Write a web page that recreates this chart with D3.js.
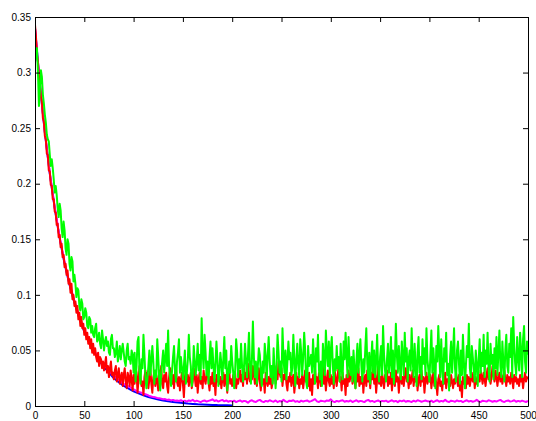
<!DOCTYPE html>
<html>
<head>
<meta charset="utf-8">
<script src="https://cdn.jsdelivr.net/npm/d3@7"></script>
<style>
  body { margin: 0; background: #fff; }
  .axis text { font-family: "Liberation Sans", Arial, Helvetica, sans-serif; font-size: 10px; fill: #000; }
  .axis path, .axis line { stroke: #000; }
</style>
</head>
<body>
<div id="chart"></div>
<script>
const width = 536;
const height = 421;

const margin = { top: 17, right: 8, bottom: 15, left: 35 };

// x ticks and y ticks
const xTicks = [0, 50, 100, 150, 200, 250, 300, 350, 400, 450, 500];
const yTicks = [0, 0.05, 0.1, 0.15, 0.2, 0.25, 0.3, 0.35];

// blue: sampled every 5 iterations, 0..200
const blueStep = 5;
const blueValues = [
  0.340, 0.289, 0.246, 0.209, 0.178, 0.151, 0.128, 0.109, 0.093, 0.079,
  0.067, 0.057, 0.0485, 0.041, 0.035, 0.030, 0.025, 0.0215, 0.018, 0.0156,
  0.0132, 0.0113, 0.0096, 0.0081, 0.0069, 0.0059, 0.005, 0.0042, 0.0036, 0.0031,
  0.0026, 0.0022, 0.0019, 0.0016, 0.0014, 0.0012, 0.001, 0.0008, 0.0007, 0.0006,
  0.0005
];

// magenta: sampled every 2 iterations, 0..500
const magentaStep = 2;
const magentaValues = [
  0.340, 0.319, 0.298, 0.280, 0.263, 0.247, 0.231, 0.217, 0.203, 0.191,
  0.179, 0.168, 0.157, 0.147, 0.138, 0.130, 0.122, 0.114, 0.107, 0.101,
  0.094, 0.089, 0.083, 0.078, 0.073, 0.069, 0.064, 0.061, 0.057, 0.053,
  0.050, 0.047, 0.044, 0.042, 0.039, 0.037, 0.035, 0.033, 0.031, 0.029,
  0.027, 0.026, 0.024, 0.023, 0.021, 0.020, 0.019, 0.018, 0.017, 0.016,
  0.015, 0.014, 0.013, 0.0125, 0.012, 0.011, 0.0105, 0.010, 0.009, 0.0085,
  0.008, 0.0078, 0.0072, 0.007, 0.0065, 0.006, 0.0062, 0.0055, 0.0058, 0.005,
  0.0055, 0.0048, 0.005, 0.0045, 0.0052, 0.0042, 0.0048, 0.004, 0.005, 0.0045,
  0.0055, 0.004, 0.0048, 0.0042, 0.0035, 0.0045, 0.005, 0.004, 0.0046, 0.0052,
  0.006, 0.0045, 0.0052, 0.004, 0.0048, 0.0055, 0.0042, 0.005, 0.0038, 0.0046,
  0.004, 0.0048, 0.0035, 0.0044, 0.005, 0.0038, 0.0046, 0.0042, 0.003, 0.0045,
  0.0052, 0.004, 0.0036, 0.0048, 0.0055, 0.0042, 0.0035, 0.0046, 0.004, 0.0052,
  0.0044, 0.0038, 0.005, 0.0035, 0.0045, 0.004, 0.0055, 0.0042, 0.0036, 0.0048,
  0.0045, 0.0052, 0.0038, 0.0044, 0.0035, 0.0048, 0.004, 0.0046, 0.005, 0.0038,
  0.0044, 0.0052, 0.0062, 0.0042, 0.0036, 0.0048, 0.0044, 0.004, 0.005, 0.0046,
  0.006, 0.0042, 0.0035, 0.0046, 0.004, 0.0048, 0.0052, 0.0038, 0.0045, 0.004,
  0.005, 0.0036, 0.0044, 0.0052, 0.0038, 0.0046, 0.0042, 0.0035, 0.0048, 0.0055,
  0.004, 0.0046, 0.0036, 0.0044, 0.005, 0.0038, 0.0046, 0.0042, 0.0048, 0.0036,
  0.0044, 0.0052, 0.004, 0.0046, 0.0035, 0.0048, 0.0042, 0.005, 0.0038, 0.0045,
  0.0042, 0.0036, 0.0048, 0.004, 0.0052, 0.0046, 0.0038, 0.0044, 0.005, 0.0042,
  0.004, 0.0048, 0.0035, 0.0045, 0.0052, 0.0038, 0.0046, 0.004, 0.0055, 0.0042,
  0.0036, 0.0048, 0.0044, 0.0038, 0.005, 0.0042, 0.0046, 0.0035, 0.0045, 0.0052,
  0.004, 0.0046, 0.0038, 0.0044, 0.0055, 0.0042, 0.0036, 0.0048, 0.0044, 0.004,
  0.0052, 0.0046, 0.0038, 0.0045, 0.004, 0.0048, 0.0055, 0.0042, 0.0036, 0.0046,
  0.005, 0.004, 0.0044, 0.0052, 0.0038, 0.0046, 0.004, 0.0048, 0.0042, 0.0036,
  0.0045
];

// red: every iteration, 0..500
const redStep = 1;
const redValues = [
  0.343, 0.332, 0.316, 0.310, 0.296, 0.291, 0.278, 0.274, 0.259, 0.256,
  0.243, 0.240, 0.227, 0.226, 0.212, 0.211, 0.199, 0.198, 0.186, 0.186,
  0.175, 0.174, 0.163, 0.164, 0.152, 0.154, 0.143, 0.146, 0.134, 0.136,
  0.125, 0.128, 0.118, 0.122, 0.110, 0.114, 0.102, 0.110, 0.096, 0.100,
  0.090, 0.094, 0.084, 0.090, 0.078, 0.084, 0.072, 0.080, 0.070, 0.074,
  0.064, 0.070, 0.060, 0.066, 0.056, 0.062, 0.052, 0.060, 0.048, 0.056,
  0.046, 0.052, 0.044, 0.040, 0.048, 0.036, 0.044, 0.042, 0.034, 0.040,
  0.032, 0.038, 0.044, 0.030, 0.036, 0.026, 0.034, 0.040, 0.028, 0.030,
  0.024, 0.032, 0.036, 0.022, 0.028, 0.034, 0.020, 0.026, 0.030, 0.018,
  0.028, 0.034, 0.022, 0.016, 0.030, 0.026, 0.018, 0.032, 0.024, 0.014,
  0.028, 0.020, 0.034, 0.030, 0.012, 0.024, 0.036, 0.026, 0.018, 0.022,
  0.010, 0.026, 0.032, 0.022, 0.030, 0.016, 0.024, 0.034, 0.020, 0.012,
  0.026, 0.030, 0.018, 0.028, 0.022, 0.014, 0.032, 0.024, 0.036, 0.020,
  0.016, 0.028, 0.022, 0.030, 0.018, 0.012, 0.026, 0.034, 0.024, 0.020,
  0.028, 0.016, 0.030, 0.036, 0.022, 0.018, 0.026, 0.014, 0.024, 0.030,
  0.020, 0.008, 0.026, 0.032, 0.022, 0.028, 0.018, 0.024, 0.030, 0.016,
  0.022, 0.034, 0.026, 0.018, 0.028, 0.012, 0.024, 0.030, 0.020, 0.026,
  0.016, 0.032, 0.024, 0.020, 0.028, 0.036, 0.022, 0.014, 0.026, 0.020,
  0.030, 0.018, 0.024, 0.010, 0.028, 0.022, 0.032, 0.020, 0.026, 0.016,
  0.024, 0.030, 0.018, 0.028, 0.022, 0.012, 0.026, 0.032, 0.020, 0.024,
  0.018, 0.028, 0.022, 0.030, 0.016, 0.024, 0.020, 0.026, 0.032, 0.022,
  0.028, 0.018, 0.034, 0.024, 0.030, 0.020, 0.038, 0.026, 0.022, 0.032,
  0.024, 0.036, 0.028, 0.020, 0.030, 0.018, 0.026, 0.034, 0.022, 0.014,
  0.028, 0.020, 0.024, 0.012, 0.030, 0.022, 0.018, 0.026, 0.020, 0.028,
  0.016, 0.022, 0.030, 0.036, 0.020, 0.026, 0.024, 0.040, 0.030, 0.026,
  0.034, 0.018, 0.028, 0.024, 0.032, 0.020, 0.014, 0.026, 0.022, 0.030,
  0.018, 0.024, 0.028, 0.012, 0.022, 0.030, 0.020, 0.026, 0.016, 0.024,
  0.020, 0.028, 0.016, 0.024, 0.032, 0.022, 0.026, 0.018, 0.030, 0.014,
  0.024, 0.010, 0.028, 0.020, 0.034, 0.022, 0.026, 0.016, 0.030, 0.024,
  0.018, 0.026, 0.036, 0.020, 0.028, 0.014, 0.024, 0.032, 0.022, 0.018,
  0.028, 0.020, 0.026, 0.016, 0.032, 0.024, 0.018, 0.028, 0.036, 0.022,
  0.026, 0.014, 0.030, 0.020, 0.024, 0.010, 0.028, 0.018, 0.032, 0.022,
  0.026, 0.036, 0.020, 0.030, 0.024, 0.016, 0.028, 0.022, 0.034, 0.018,
  0.026, 0.020, 0.030, 0.012, 0.024, 0.028, 0.018, 0.032, 0.022, 0.026,
  0.016, 0.030, 0.024, 0.034, 0.020, 0.028, 0.012, 0.024, 0.036, 0.020,
  0.026, 0.018, 0.030, 0.022, 0.016, 0.028, 0.024, 0.032, 0.018, 0.026,
  0.020, 0.030, 0.014, 0.024, 0.028, 0.018, 0.032, 0.022, 0.026, 0.012,
  0.024, 0.030, 0.020, 0.026, 0.018, 0.028, 0.034, 0.022, 0.026, 0.016,
  0.028, 0.020, 0.024, 0.032, 0.018, 0.026, 0.022, 0.030, 0.014, 0.024,
  0.028, 0.018, 0.032, 0.022, 0.026, 0.012, 0.024, 0.030, 0.020, 0.026,
  0.022, 0.028, 0.016, 0.024, 0.030, 0.018, 0.026, 0.020, 0.010, 0.024,
  0.028, 0.018, 0.022, 0.014, 0.026, 0.020, 0.030, 0.016, 0.024, 0.022,
  0.026, 0.018, 0.028, 0.022, 0.016, 0.024, 0.020, 0.030, 0.024, 0.018,
  0.028, 0.014, 0.022, 0.008, 0.026, 0.020, 0.024, 0.016, 0.028, 0.020,
  0.026, 0.018, 0.024, 0.030, 0.022, 0.028, 0.016, 0.026, 0.020, 0.024,
  0.028, 0.022, 0.032, 0.026, 0.020, 0.030, 0.024, 0.018, 0.028, 0.034,
  0.024, 0.030, 0.020, 0.026, 0.036, 0.028, 0.022, 0.032, 0.026, 0.018,
  0.026, 0.030, 0.022, 0.028, 0.020, 0.026, 0.032, 0.024, 0.018, 0.028,
  0.022, 0.026, 0.020, 0.030, 0.024, 0.016, 0.028, 0.022, 0.026, 0.020,
  0.024, 0.018, 0.028, 0.022, 0.026, 0.016, 0.024, 0.030, 0.022, 0.026,
  0.024
];

// green: every iteration, 0..500
const greenStep = 1;
const greenValues = [
  0.310, 0.318, 0.322, 0.300, 0.270, 0.285, 0.302, 0.296, 0.280, 0.272,
  0.262, 0.255, 0.244, 0.240, 0.238, 0.226, 0.216, 0.222, 0.214, 0.204,
  0.192, 0.198, 0.190, 0.178, 0.170, 0.182, 0.176, 0.160, 0.152, 0.166,
  0.158, 0.142, 0.136, 0.150, 0.146, 0.128, 0.122, 0.134, 0.130, 0.112,
  0.118, 0.110, 0.098, 0.106, 0.104, 0.090, 0.086, 0.096, 0.092, 0.078,
  0.080, 0.088, 0.084, 0.072, 0.070, 0.080, 0.078, 0.066, 0.072, 0.064,
  0.062, 0.070, 0.074, 0.058, 0.060, 0.066, 0.056, 0.052, 0.068, 0.060,
  0.050, 0.058, 0.062, 0.054, 0.058, 0.048, 0.046, 0.060, 0.064, 0.052,
  0.052, 0.044, 0.048, 0.058, 0.040, 0.046, 0.054, 0.042, 0.050, 0.056,
  0.048, 0.040, 0.036, 0.050, 0.056, 0.042, 0.044, 0.038, 0.050, 0.046,
  0.030, 0.048, 0.022, 0.036, 0.058, 0.062, 0.030, 0.020, 0.042, 0.034,
  0.064, 0.046, 0.026, 0.016, 0.024, 0.036, 0.050, 0.028, 0.040, 0.054,
  0.040, 0.020, 0.032, 0.026, 0.060, 0.044, 0.024, 0.014, 0.030, 0.040,
  0.050, 0.030, 0.042, 0.056, 0.036, 0.068, 0.036, 0.026, 0.018, 0.032,
  0.044, 0.054, 0.032, 0.022, 0.040, 0.048, 0.060, 0.030, 0.044, 0.034,
  0.024, 0.036, 0.050, 0.020, 0.030, 0.042, 0.064, 0.044, 0.036, 0.018,
  0.026, 0.054, 0.040, 0.028, 0.040, 0.056, 0.032, 0.046, 0.024, 0.079,
  0.048, 0.034, 0.064, 0.048, 0.028, 0.040, 0.020, 0.044, 0.058, 0.034,
  0.052, 0.036, 0.022, 0.038, 0.058, 0.042, 0.018, 0.032, 0.048, 0.038,
  0.024, 0.042, 0.062, 0.034, 0.050, 0.014, 0.028, 0.040, 0.030, 0.054,
  0.040, 0.030, 0.016, 0.032, 0.060, 0.048, 0.026, 0.042, 0.034, 0.056,
  0.036, 0.022, 0.036, 0.056, 0.040, 0.026, 0.046, 0.066, 0.036, 0.020,
  0.042, 0.076, 0.044, 0.026, 0.040, 0.020, 0.036, 0.052, 0.046, 0.030,
  0.018, 0.040, 0.030, 0.056, 0.044, 0.022, 0.046, 0.062, 0.040, 0.026,
  0.036, 0.020, 0.052, 0.032, 0.016, 0.036, 0.064, 0.048, 0.030, 0.040,
  0.022, 0.070, 0.044, 0.030, 0.050, 0.024, 0.040, 0.058, 0.042, 0.048,
  0.028, 0.034, 0.064, 0.042, 0.018, 0.042, 0.056, 0.036, 0.026, 0.060,
  0.048, 0.028, 0.044, 0.066, 0.050, 0.022, 0.016, 0.054, 0.036, 0.040,
  0.046, 0.030, 0.060, 0.040, 0.020, 0.052, 0.040, 0.064, 0.032, 0.024,
  0.040, 0.018, 0.056, 0.044, 0.028, 0.068, 0.048, 0.036, 0.058, 0.026,
  0.050, 0.062, 0.038, 0.020, 0.042, 0.032, 0.054, 0.034, 0.044, 0.022,
  0.056, 0.034, 0.024, 0.058, 0.042, 0.066, 0.046, 0.026, 0.062, 0.040,
  0.028, 0.044, 0.022, 0.050, 0.034, 0.016, 0.040, 0.056, 0.030, 0.046,
  0.060, 0.036, 0.022, 0.042, 0.030, 0.052, 0.070, 0.038, 0.024, 0.048,
  0.020, 0.042, 0.058, 0.030, 0.050, 0.026, 0.040, 0.064, 0.034, 0.022,
  0.044, 0.054, 0.028, 0.072, 0.046, 0.032, 0.022, 0.042, 0.056, 0.030,
  0.040, 0.062, 0.026, 0.050, 0.020, 0.042, 0.074, 0.046, 0.030, 0.054,
  0.036, 0.024, 0.058, 0.044, 0.028, 0.066, 0.040, 0.052, 0.022, 0.042,
  0.050, 0.032, 0.070, 0.042, 0.026, 0.056, 0.036, 0.018, 0.048, 0.062,
  0.030, 0.044, 0.024, 0.060, 0.038, 0.052, 0.028, 0.070, 0.042, 0.032,
  0.022, 0.046, 0.068, 0.030, 0.052, 0.036, 0.016, 0.054, 0.040, 0.072,
  0.048, 0.026, 0.060, 0.034, 0.020, 0.052, 0.040, 0.066, 0.028, 0.038,
  0.014, 0.044, 0.058, 0.030, 0.048, 0.070, 0.034, 0.022, 0.050, 0.058,
  0.038, 0.020, 0.050, 0.028, 0.064, 0.040, 0.016, 0.036, 0.054, 0.044,
  0.074, 0.034, 0.026, 0.054, 0.044, 0.032, 0.022, 0.050, 0.038, 0.018,
  0.042, 0.060, 0.030, 0.048, 0.036, 0.064, 0.026, 0.050, 0.038, 0.066,
  0.034, 0.022, 0.056, 0.038, 0.046, 0.024, 0.052, 0.034, 0.062, 0.028,
  0.048, 0.068, 0.036, 0.026, 0.058, 0.040, 0.022, 0.050, 0.064, 0.036,
  0.030, 0.056, 0.044, 0.070, 0.026, 0.080, 0.054, 0.038, 0.028, 0.062,
  0.044, 0.032, 0.066, 0.050, 0.026, 0.060, 0.072, 0.040, 0.030, 0.058,
  0.046
];

const series = [
  { color: "#0000ff", step: blueStep, values: blueValues },
  { color: "#ff00ff", step: magentaStep, values: magentaValues },
  { color: "#ff0000", step: redStep, values: redValues },
  { color: "#00ff00", step: greenStep, values: greenValues }
];

const svg = d3.select("#chart")
  .append("svg")
  .attr("width", width)
  .attr("height", height);

const xScale = d3.scaleLinear()
  .domain([0, 500])
  .range([margin.left, width - margin.right]);

const yScale = d3.scaleLinear()
  .domain([0, 0.35])
  .range([height - margin.bottom, margin.top]);

svg.append("clipPath")
  .attr("id", "plot-clip")
  .append("rect")
  .attr("x", margin.left)
  .attr("y", margin.top)
  .attr("width", width - margin.left - margin.right)
  .attr("height", height - margin.top - margin.bottom);

const line = d3.line()
  .x(function(d) { return xScale(d[0]); })
  .y(function(d) { return yScale(d[1]); });

svg.append("g")
  .attr("clip-path", "url(#plot-clip)")
  .selectAll(".series")
  .data(series)
  .enter()
  .append("path")
  .attr("class", "series")
  .attr("fill", "none")
  .attr("stroke", function(d) { return d.color; })
  .attr("stroke-width", 2)
  .attr("stroke-linejoin", "round")
  .attr("d", function(d) {
    return line(d.values.map(function(v, i) { return [i * d.step, v]; }));
  });

const fmt = function(d) { return String(+d.toFixed(2)); };

// box with inward ticks on all four sides
svg.append("g")
  .attr("class", "axis")
  .attr("transform", "translate(0," + (height - margin.bottom) + ")")
  .call(d3.axisBottom(xScale).tickValues(xTicks).tickFormat(fmt)
    .tickSizeInner(-5).tickSizeOuter(0).tickPadding(6));

svg.append("g")
  .attr("class", "axis")
  .attr("transform", "translate(" + margin.left + ",0)")
  .call(d3.axisLeft(yScale).tickValues(yTicks).tickFormat(fmt)
    .tickSizeInner(-5).tickSizeOuter(0).tickPadding(4));

svg.append("g")
  .attr("class", "axis")
  .attr("transform", "translate(0," + margin.top + ")")
  .call(d3.axisTop(xScale).tickValues(xTicks).tickFormat("")
    .tickSizeInner(-5).tickSizeOuter(0));

svg.append("g")
  .attr("class", "axis")
  .attr("transform", "translate(" + (width - margin.right) + ",0)")
  .call(d3.axisRight(yScale).tickValues(yTicks).tickFormat("")
    .tickSizeInner(-5).tickSizeOuter(0));
</script>
</body>
</html>
